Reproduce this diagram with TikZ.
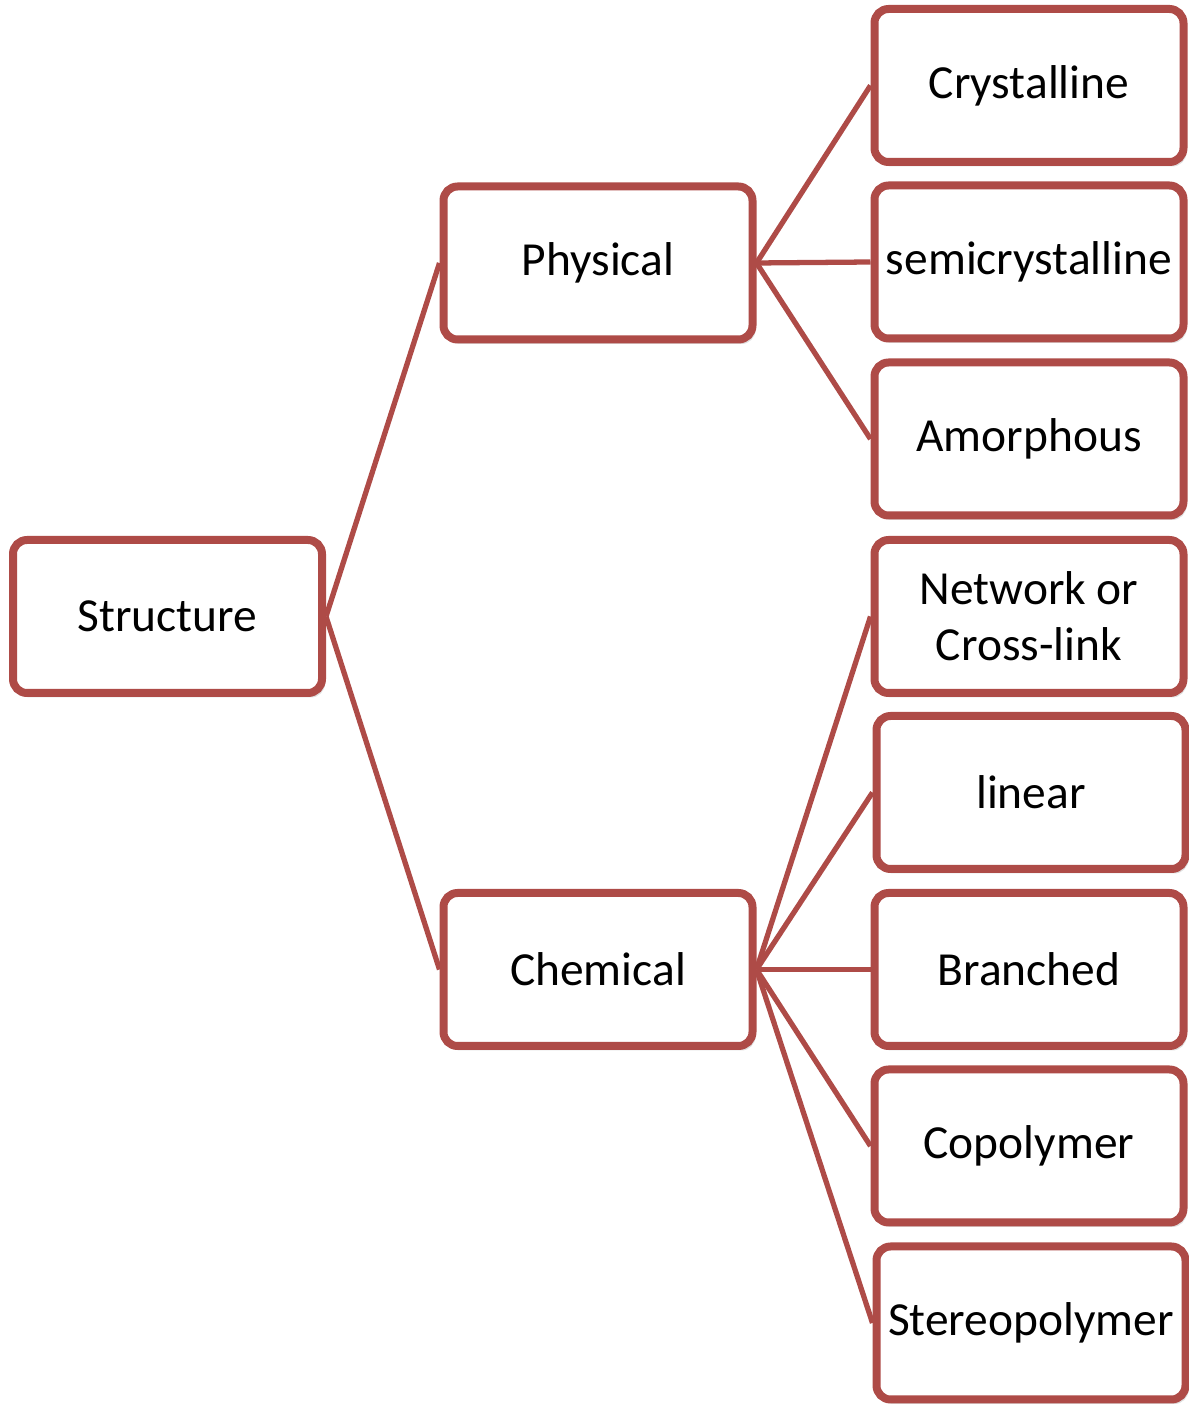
\documentclass[tikz,border=0pt]{standalone}
\usepackage{fontspec}
\setmainfont{Carlito}
\usetikzlibrary{shadows}
\definecolor{c1}{HTML}{AE4B47}
\definecolor{c2}{HTML}{000000}

\begin{document}
\begin{tikzpicture}[
    every node/.style={font=\fontsize{13.5}{16}\selectfont, text=c2},
    kind/.style={
        rectangle, rounded corners=4pt, draw=c1, fill=white, line width=0.08cm,
        minimum width=3.09cm, minimum height=1.53cm, align=center, inner sep=0pt,
        drop shadow={shadow xshift=0.03cm, shadow yshift=-0.045cm, opacity=0.25},
    },
    link/.style={c1, line width=1.5pt},
]
\useasboundingbox (0, 0) rectangle (11.89, 14.05);

% ============================================================ root and its two branches
\node[kind] (structure) at (1.675, 7.885) {Structure};
\node[kind] (physical)  at (5.980, 11.420) {Physical};
\node[kind] (chemical)  at (5.980, 4.355) {Chemical};

% ============================================================ the physical kinds
\node[kind] (crystalline) at (10.290, 13.195) {Crystalline};
\node[kind] (semicryst)   at (10.290, 11.430) {semicrystalline};
\node[kind] (amorphous)   at (10.290, 9.660) {Amorphous};

% ============================================================ the chemical kinds
\node[kind] (network)   at (10.290, 7.885) {Network or\\ Cross-link};
\node[kind] (linear)    at (10.310, 6.125) {linear};
\node[kind] (branched)  at (10.290, 4.355) {Branched};
\node[kind] (copolymer) at (10.290, 2.590) {Copolymer};
\node[kind] (stereo)    at (10.310, 0.820) {Stereopolymer};

% the links: each leaves the east side of its parent
\draw[link] (structure.east) -- (physical.west);
\draw[link] (structure.east) -- (chemical.west);
\foreach \n in {crystalline, semicryst, amorphous}{
    \draw[link] (physical.east) -- (\n.west);
}
\foreach \n in {network, linear, branched, copolymer, stereo}{
    \draw[link] (chemical.east) -- (\n.west);
}

\end{tikzpicture}
\end{document}
